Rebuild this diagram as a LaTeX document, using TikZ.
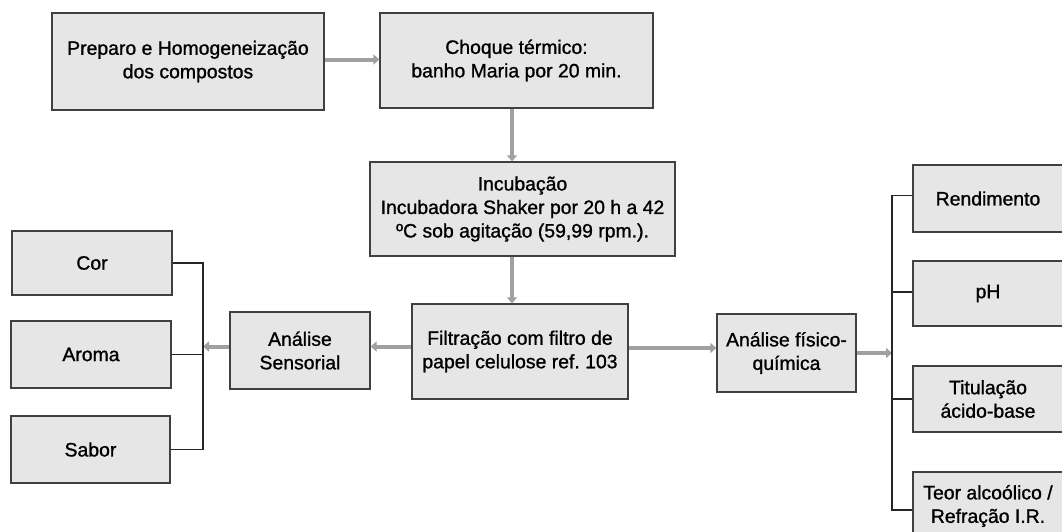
\documentclass[tikz,border=0pt]{standalone}
\usepackage{fontspec}
\setmainfont{Liberation Sans}[FakeBold=1.1]
\usetikzlibrary{arrows.meta,calc}
\frenchspacing
\definecolor{boxfill}{HTML}{E6E6E6}
\definecolor{boxline}{HTML}{404040}
\definecolor{arrgray}{HTML}{A0A0A0}
\tikzset{
  box/.style={draw=boxline, line width=1.3pt, fill=boxfill, align=center,
    inner sep=0pt, font=\fontsize{19.4}{23.5}\selectfont\frenchspacing, text=black},
  arr/.style={draw=arrgray, line width=4pt, -{Triangle[length=6pt,width=10pt]}},
  brk/.style={draw=black!85, line width=1.3pt}
}
\begin{document}
\begin{tikzpicture}[x=1pt,y=-1pt]
\useasboundingbox (0,0) rectangle (1062,531);
\clip (0,0) rectangle (1062,531);
\fill[white] (0,0) rectangle (1062,531);
% boxes
\node[box, minimum width=272pt, minimum height=97pt] (prep) at (188,61.5) {Preparo e Homogeneização\\dos compostos};
\node[box, minimum width=273pt, minimum height=95pt] (choque) at (516.5,60.5) {Choque térmico:\\banho Maria por 20 min.};
\node[box, minimum width=305pt, minimum height=94pt] (incub) at (522.5,209) {Incubação\\Incubadora Shaker por 20 h a 42\\ºC sob agitação (59,99 rpm.).};
\node[box, minimum width=216pt, minimum height=95pt] (filt) at (520,351.5) {Filtração com filtro de\\papel celulose ref. 103};
\node[box, minimum width=140pt, minimum height=77pt] (sens) at (300,350.5) {Análise\\Sensorial};
\node[box, minimum width=139pt, minimum height=78pt] (fq) at (786.5,353) {Análise físico-\\química};
\node[box, minimum width=160pt, minimum height=64pt] (cor) at (92,263) {Cor};
\node[box, minimum width=160pt, minimum height=67pt] (aroma) at (91,354.5) {Aroma};
\node[box, minimum width=159pt, minimum height=67pt] (sabor) at (90.5,449.5) {Sabor};
\node[box, minimum width=150pt, minimum height=67pt] (rend) at (988,198.5) {Rendimento};
\node[box, minimum width=150pt, minimum height=65pt] (ph) at (988,293.5) {pH};
\node[box, minimum width=150pt, minimum height=66pt] (tit) at (988,399) {Titulação\\ácido-base};
\node[box, minimum width=150pt, minimum height=68pt] (teor) at (988,506) {Teor alcoólico /\\Refração I.R.};
% helper coordinates
\coordinate (vx) at (512,0);
\coordinate (lb) at (203,0);
\coordinate (rb) at (892,0);
% arrows
\draw[arr] ([yshift=2pt]prep.east) -- ([yshift=2pt]prep.east -| choque.west);
\draw[arr] (vx |- choque.south) -- (vx |- incub.north);
\draw[arr] (vx |- incub.south) -- (vx |- filt.north);
\draw[arr] ([yshift=5pt]filt.west) -- ([yshift=5pt]filt.west -| sens.east);
\draw[arr] ([yshift=4pt]sens.west) -- ([yshift=4pt]sens.west -| lb);
\draw[arr] ([yshift=3.5pt]filt.east) -- ([yshift=3.5pt]filt.east -| fq.west);
\draw[arr] (fq.east) -- (fq.east -| rb);
% left bracket
\draw[brk] (cor.east) -- (cor.east -| lb) -- (sabor.east -| lb) -- (sabor.east);
\draw[brk] (aroma.east) -- (aroma.east -| lb);
% right bracket
\draw[brk] ([yshift=3pt]rend.west) -- ([yshift=3pt]rend.west -| rb) -- ([yshift=-4pt]teor.west -| rb) -- ([yshift=-4pt]teor.west);
\draw[brk] ([yshift=1.5pt]ph.west) -- ([yshift=1.5pt]ph.west -| rb);
\draw[brk] (tit.west) -- (tit.west -| rb);
\end{tikzpicture}
\end{document}
